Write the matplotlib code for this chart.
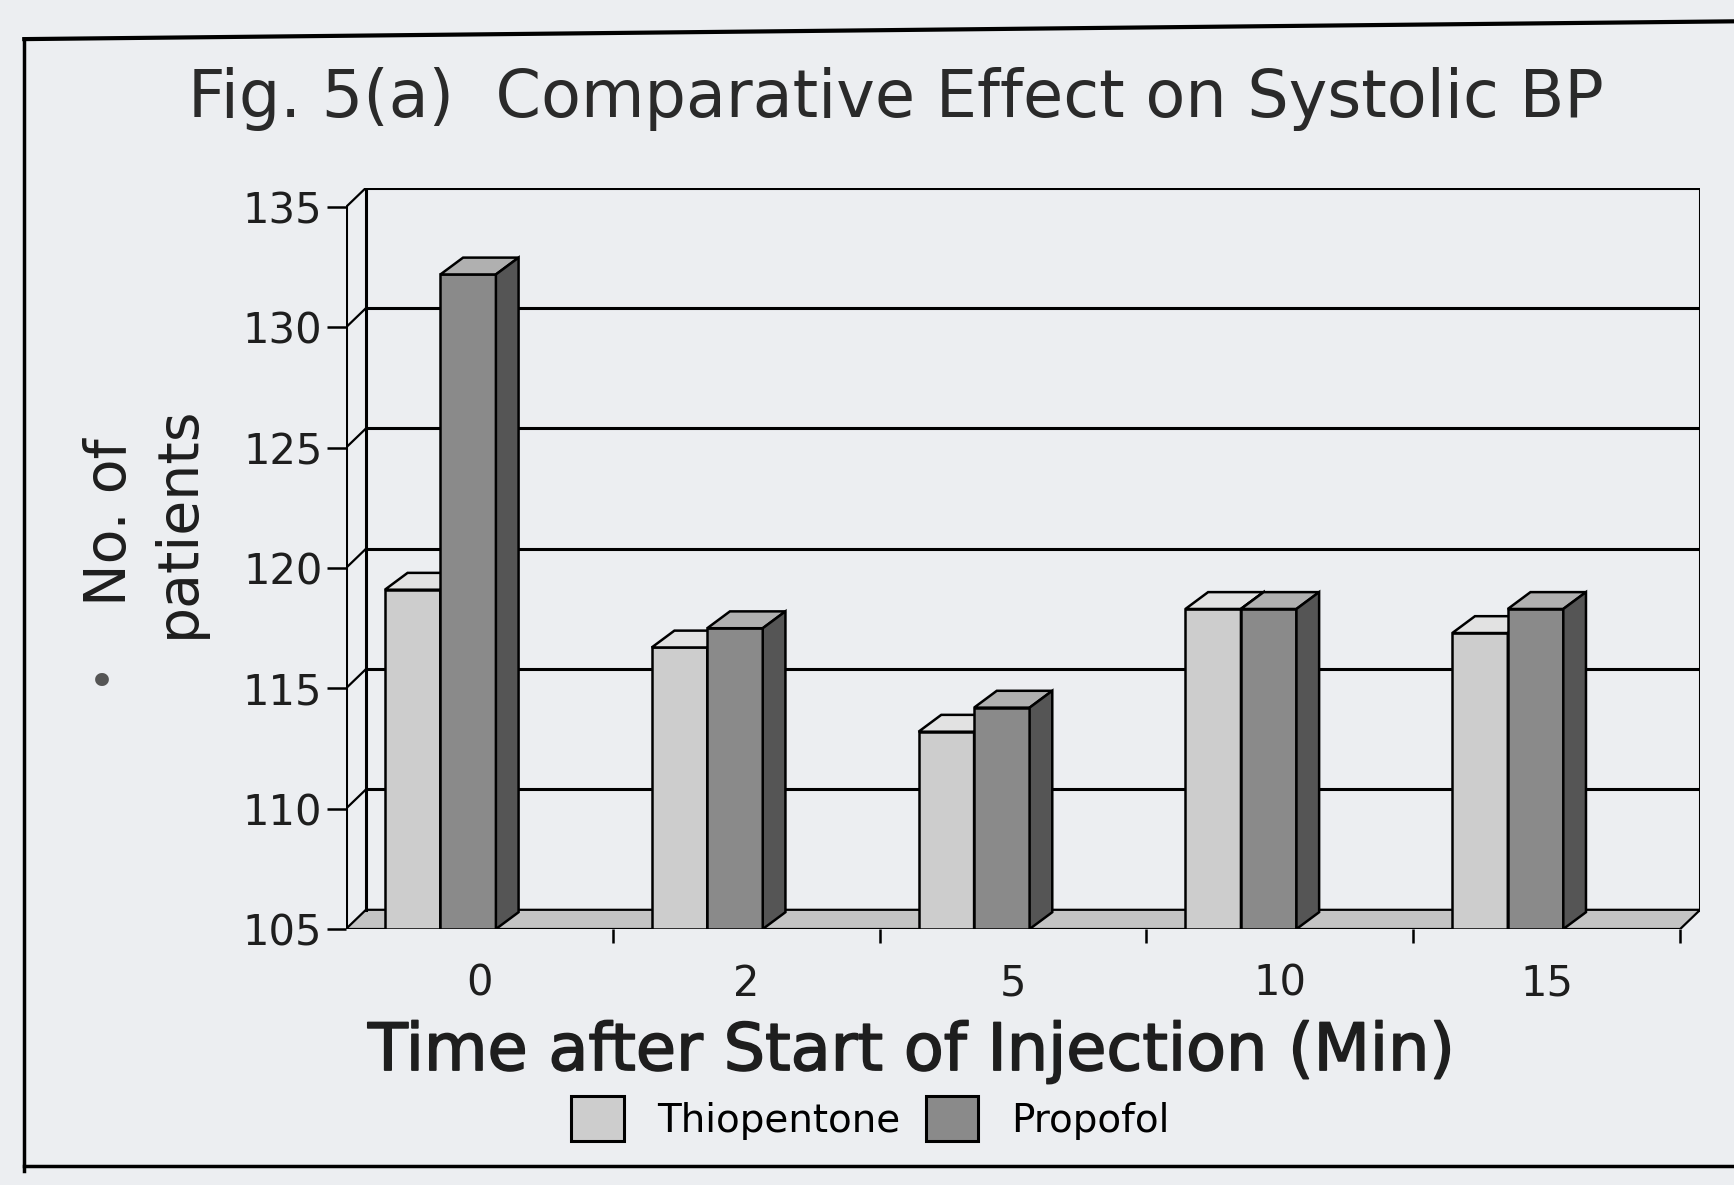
import matplotlib.pyplot as plt
from matplotlib.patches import Polygon, Patch
import matplotlib.patheffects as pe

plt.rcParams['font.family'] = ['DejaVu Sans']

# donnees
temps = ["0", "2", "5", "10", "15"]
thiopentone = [119.1, 116.7, 113.2, 118.3, 117.3]
propofol = [132.2, 117.5, 114.2, 118.3, 118.3]
yticks = [105, 110, 115, 120, 125, 130, 135]

BG = "#eceef1"
Y0 = 105
DX, DY = 0.075, 0.8       # profondeur du mur du fond
BX, BY = 0.085, 0.7       # profondeur des barres
W = 0.208

fig = plt.figure(figsize=(17.34, 11.85), dpi=100, facecolor=BG)
ax = fig.add_axes([0.1995, 0.216, 0.781, 0.6255])
ax.set_facecolor(BG)
ax.set_xlim(-0.5, len(temps) - 0.5 + DX)
ax.set_ylim(Y0, yticks[-1] + DY)
for s in ax.spines.values():
    s.set_visible(False)

lw = 2.2
x0, x1 = -0.5, len(temps) - 0.5
# mur du fond + grille
for v in yticks[1:]:
    ax.plot([x0 + DX, x1 + DX], [v + DY, v + DY], color="black", lw=lw)
    ax.plot([x0, x0 + DX], [v, v + DY], color="black", lw=1.6)
ax.plot([x0 + DX, x0 + DX], [Y0 + DY, yticks[-1] + DY], color="black", lw=lw)
ax.plot([x1 + DX, x1 + DX], [Y0 + DY, yticks[-1] + DY], color="black", lw=lw)
# sol
ax.add_patch(Polygon([(x0, Y0), (x1, Y0), (x1 + DX, Y0 + DY), (x0 + DX, Y0 + DY)],
                     closed=True, facecolor="#c4c4c4", edgecolor="black", lw=1.6))
# axe avant
ax.plot([x0, x0], [Y0, yticks[-1]], color="black", lw=lw)
ax.plot([x0, x1], [Y0, Y0], color="black", lw=lw)

def barre(x, v, front, top, side):
    ax.bar(x, v - Y0, width=W, bottom=Y0, align="edge",
           color=front, edgecolor="black", lw=1.8, zorder=3)
    ax.add_patch(Polygon([(x, v), (x + BX, v + BY), (x + W + BX, v + BY), (x + W, v)],
                         closed=True, facecolor=top, edgecolor="black", lw=1.8, zorder=3))
    ax.add_patch(Polygon([(x + W, Y0), (x + W + BX, Y0 + BY), (x + W + BX, v + BY), (x + W, v)],
                         closed=True, facecolor=side, edgecolor="black", lw=1.8, zorder=3))

for i in range(len(temps)):
    xl = i - 0.5 + 0.146
    barre(xl, thiopentone[i], "#cdcdcd", "#e2e2e2", "#9a9a9a")
    barre(xl + W, propofol[i], "#8a8a8a", "#b0b0b0", "#555555")

ax.set_yticks(yticks)
ax.set_yticklabels([str(v) for v in yticks], fontsize=30, color="#1e1e1e")
ax.tick_params(axis="y", length=14, width=1.8, pad=3)
ax.set_xticks([i + 0.5 for i in range(len(temps))])
ax.set_xticklabels([])
ax.tick_params(axis="x", length=10, width=1.8, direction="out")
for i, t in enumerate(temps):
    ax.text(i, Y0 - 1.4, t, ha="center", va="top", fontsize=30, color="#1e1e1e")

fig.text(0.5254, 0.097, "Time after Start of Injection (Min)", ha="center",
         va="baseline", fontsize=47, color="#1e1e1e",
         path_effects=[pe.withStroke(linewidth=1.2, foreground="#1e1e1e")])
fig.text(0.5167, 0.901, "Fig. 5(a)  Comparative Effect on Systolic BP",
         ha="center", va="baseline", fontsize=47, color="#2a2a2a")
fig.text(0.0835, 0.5595, "No. of\npatients", rotation=90, ha="center", va="center",
         multialignment="center", fontsize=41, linespacing=1.3, color="#1e1e1e")
fig.text(0.0585, 0.4225, "\u2022", ha="center", va="center", fontsize=34, color="#555555")

handles = [Patch(facecolor="#cdcdcd", edgecolor="black", lw=2.2),
           Patch(facecolor="#8a8a8a", edgecolor="black", lw=2.2)]
fig.legend(handles, ["Thiopentone", "Propofol"], loc="center",
           bbox_to_anchor=(0.502, 0.056), ncol=2, frameon=False, fontsize=28,
           handlelength=1.34, handleheight=1.41, columnspacing=0.67, handletextpad=0.85)

# cadre de la figure scannee
fig.add_artist(plt.Line2D([0.014, 1.0], [0.967, 0.982], color="black", lw=3))
fig.add_artist(plt.Line2D([0.014, 0.014], [0.012, 0.967], color="black", lw=2.5))
fig.add_artist(plt.Line2D([0.014, 1.0], [0.016, 0.016], color="black", lw=2.5))

fig.savefig("out.png", dpi=100, facecolor=BG)
